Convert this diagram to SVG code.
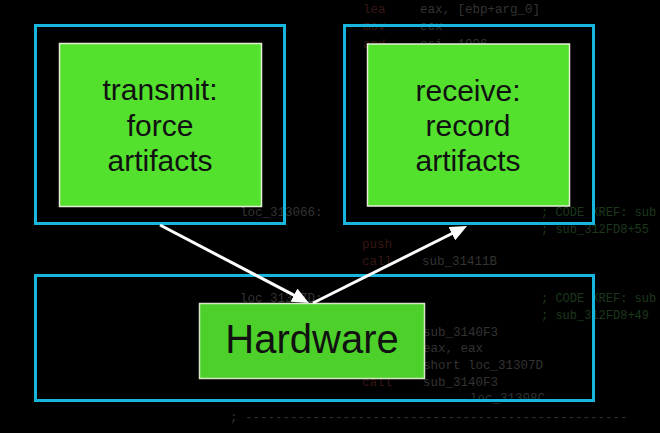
<svg xmlns="http://www.w3.org/2000/svg" width="660" height="433" viewBox="0 0 660 433">
  <style>
    .bg { fill: #000; }
    .frame { fill: none; stroke: #17b6de; stroke-width: 3; }
    .box { fill: #53e12e; stroke: #e6eed6; stroke-width: 1.5; }
    .hw { fill: #4dd12a; stroke: #d8e6c8; stroke-width: 1.5; }
    .lbl { font-family: "Liberation Sans", Arial, sans-serif; font-size: 30px; fill: #111; text-anchor: middle; }
    .big { font-family: "Liberation Sans", Arial, sans-serif; font-size: 40px; fill: #111; text-anchor: middle; }
    .code { font-family: "Liberation Mono", "DejaVu Sans Mono", monospace; font-size: 12.5px; fill: #333; }
    .kw { fill: #361713; }
    .cm { fill: #1c381c; font-size: 12px; }
    .conn { stroke: #fff; stroke-width: 3; fill: none; }
  </style>
  <defs>
    <marker id="ah" markerUnits="userSpaceOnUse" markerWidth="17" markerHeight="15" viewBox="0 0 17 15" refX="7" refY="7.5" orient="auto">
      <path d="M0,0 L17,7.5 L0,15 z" fill="#fff"/>
    </marker>
  </defs>
  <rect class="bg" x="0" y="0" width="660" height="433"/>

  <g id="background-code">
    <text class="code kw" x="363" y="13">lea</text>
    <text class="code" x="420" y="13">eax, [ebp+arg_0]</text>
    <text class="code kw" x="363" y="30">mov</text>
    <text class="code" x="420" y="30">ecx</text>
    <text class="code kw" x="363" y="48">and</text>
    <text class="code" x="420" y="48">esi, 1006</text>
    <text class="code" x="240" y="216">loc_313066:</text>
    <text class="code cm" x="541" y="216">; CODE XREF: sub</text>
    <text class="code cm" x="541" y="233">; sub_312FD8+55</text>
    <text class="code kw" x="362" y="248">push</text>
    <text class="code kw" x="362" y="265">call</text>
    <text class="code" x="422" y="265">sub_31411B</text>
    <text class="code" x="240" y="302">loc_31307D:</text>
    <text class="code cm" x="541" y="302">; CODE XREF: sub</text>
    <text class="code cm" x="541" y="319">; sub_312FD8+49</text>
    <text class="code" x="423" y="336">sub_3140F3</text>
    <text class="code" x="423" y="352">eax, eax</text>
    <text class="code" x="423" y="369">short loc_31307D</text>
    <text class="code kw" x="362" y="386">call</text>
    <text class="code" x="423" y="386">sub_3140F3</text>
    <text class="code" x="470" y="402">loc_31308C</text>
    <text class="code" x="230" y="421">; ---------------------------------------------------</text>
  </g>

  <g id="transmit">
    <rect class="frame" x="35.5" y="25.5" width="249" height="198"/>
    <rect class="box" x="59.5" y="43.5" width="202" height="163"/>
    <text class="lbl" x="160" y="100">transmit:</text>
    <text class="lbl" x="160" y="136">force</text>
    <text class="lbl" x="160" y="171">artifacts</text>
  </g>

  <g id="receive">
    <rect class="frame" x="344.5" y="25.5" width="249" height="198"/>
    <rect class="box" x="367.5" y="44" width="202" height="162"/>
    <text class="lbl" x="468" y="101">receive:</text>
    <text class="lbl" x="468" y="136">record</text>
    <text class="lbl" x="468" y="171">artifacts</text>
  </g>

  <g id="hardware">
    <rect class="frame" x="35.5" y="275.5" width="558" height="125"/>
    <rect class="hw" x="199.5" y="303.5" width="225" height="75"/>
    <text class="big" x="312" y="353">Hardware</text>
  </g>

  <g id="connectors">
    <line class="conn" x1="160" y1="225" x2="300.1" y2="298.4" marker-end="url(#ah)"/>
    <line class="conn" x1="313" y1="303" x2="458.1" y2="230.5" marker-end="url(#ah)"/>
  </g>
</svg>
